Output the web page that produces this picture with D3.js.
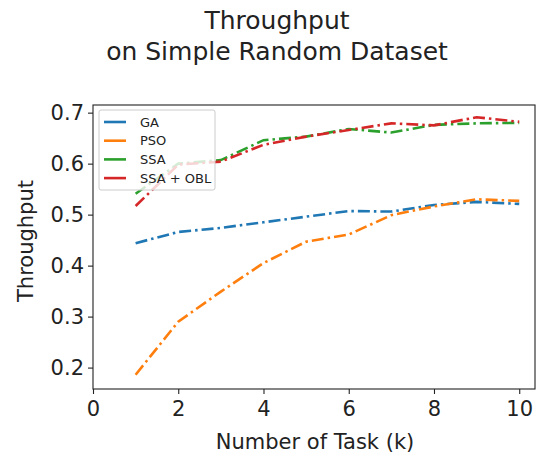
<!DOCTYPE html>
<html>
<head>
<meta charset="utf-8">
<script src="https://cdn.jsdelivr.net/npm/d3@7"></script>
<style>
    body { margin: 0; background: #fff; }
    text { font-family: "DejaVu Sans", sans-serif; fill: #222; }
</style>
</head>
<body>
<svg id="chart" width="537" height="457"></svg>
<script>
// chart data
const tasks = [1, 2, 3, 4, 5, 6, 7, 8, 9, 10];
const gaValues = [0.444, 0.466, 0.474, 0.485, 0.496, 0.507, 0.506, 0.519, 0.525, 0.521];
const psoValues = [0.186, 0.290, 0.349, 0.405, 0.447, 0.461, 0.499, 0.516, 0.530, 0.527];
const ssaValues = [0.541, 0.600, 0.607, 0.646, 0.653, 0.668, 0.661, 0.676, 0.679, 0.680];
const ssaOblValues = [0.517, 0.598, 0.604, 0.637, 0.653, 0.666, 0.679, 0.675, 0.691, 0.682];
const seriesNames = ["GA", "PSO", "SSA", "SSA + OBL"];
const xTicks = [0, 2, 4, 6, 8, 10];
const yTicks = [0.2, 0.3, 0.4, 0.5, 0.6, 0.7];

const colors = ["#1f77b4", "#ff7f0e", "#2ca02c", "#d62728"];
const allSeries = [gaValues, psoValues, ssaValues, ssaOblValues];

const svg = d3.select("#chart");
const plotLeft = 93, plotRight = 535, plotTop = 105, plotBottom = 389;

const x = d3.scaleLinear().domain([0, 10.37]).range([plotLeft, plotRight]);
const y = d3.scaleLinear().domain([0.158, 0.715]).range([plotBottom, plotTop]);

// title
svg.append("text").attr("x", 277).attr("y", 29)
    .attr("text-anchor", "middle").style("font-size", "25px").text("Throughput");
svg.append("text").attr("x", 277).attr("y", 60)
    .attr("text-anchor", "middle").style("font-size", "25px").text("on Simple Random Dataset");

// lines
const line = d3.line()
    .x((d, i) => x(tasks[i]))
    .y(d => y(d));

allSeries.forEach((vals, i) => {
    svg.append("path")
        .datum(vals)
        .attr("d", line)
        .attr("fill", "none")
        .attr("stroke", colors[i])
        .attr("stroke-width", 2.6)
        .attr("stroke-dasharray", "12,4,2.5,4");
});

// axes
const xAxis = svg.append("g").attr("transform", `translate(0,${plotBottom})`)
    .call(d3.axisBottom(x).tickValues(xTicks).tickFormat(d3.format("d")).tickSizeOuter(0).tickSize(5));
const yAxis = svg.append("g").attr("transform", `translate(${plotLeft},0)`)
    .call(d3.axisLeft(y).tickValues(yTicks).tickFormat(d3.format(".1f")).tickSizeOuter(0).tickSize(5));

[xAxis, yAxis].forEach(ax => {
    ax.selectAll("text").style("font-size", "21px").attr("fill", "#222")
        .style("font-family", "DejaVu Sans, sans-serif");
    ax.selectAll("line").attr("stroke", "#222").attr("stroke-width", 1.1);
    ax.select(".domain").remove();
});
xAxis.selectAll("text").attr("dy", "0.9em");
yAxis.selectAll("text").attr("x", -9);

// frame
svg.append("rect").attr("x", plotLeft).attr("y", plotTop)
    .attr("width", plotRight - plotLeft).attr("height", plotBottom - plotTop)
    .attr("fill", "none").attr("stroke", "#222").attr("stroke-width", 1.1);

// axis labels
svg.append("text").attr("x", 315).attr("y", 449)
    .attr("text-anchor", "middle").style("font-size", "21px").text("Number of Task (k)");
svg.append("text").attr("transform", `translate(33,${(plotTop + plotBottom) / 2 - 6}) rotate(-90)`)
    .attr("text-anchor", "middle").style("font-size", "21px").text("Throughput");

// legend
const legend = svg.append("g").attr("transform", "translate(99,110)");
legend.append("rect").attr("width", 116).attr("height", 80).attr("rx", 2)
    .attr("fill", "#fff").attr("fill-opacity", 0.8)
    .attr("stroke", "#ccc").attr("stroke-width", 1);
seriesNames.forEach((name, i) => {
    const ly = 12 + i * 18.7;
    legend.append("line").attr("x1", 5).attr("x2", 27).attr("y1", ly).attr("y2", ly)
        .attr("stroke", colors[i]).attr("stroke-width", 2.6);
    legend.append("text").attr("x", 41).attr("y", ly + 4.5)
        .style("font-size", "13px").text(name);
});
</script>
</body>
</html>
